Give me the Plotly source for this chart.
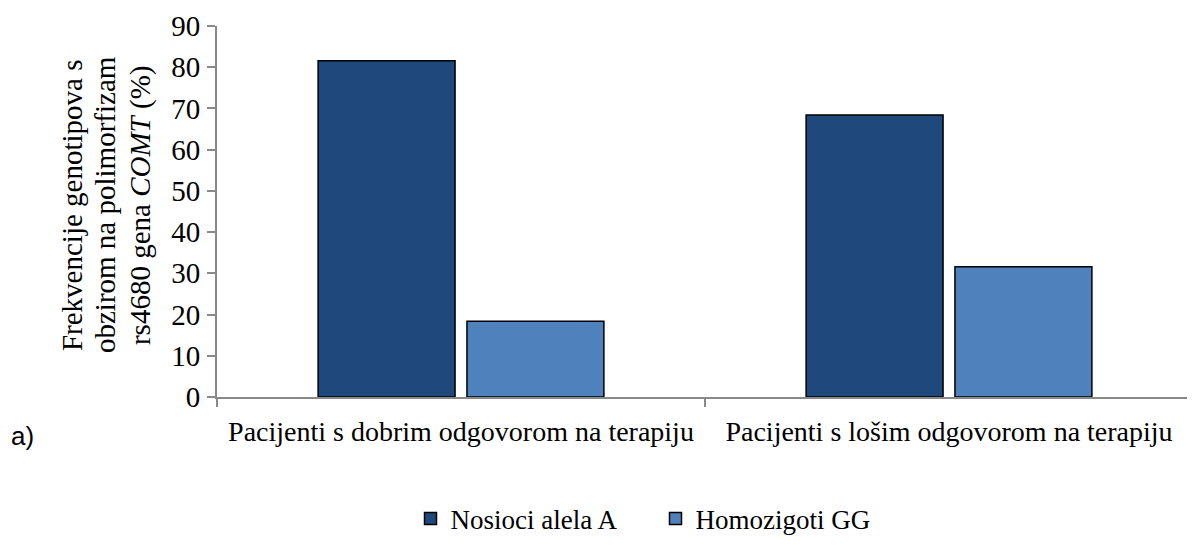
import plotly.graph_objects as go

categories = ["Pacijenti s dobrim odgovorom na terapiju", "Pacijenti s lošim odgovorom na terapiju"]
series_names = ["Nosioci alela A", "Homozigoti GG"]
nosioci = [81.6, 68.4]
homozigoti = [18.4, 31.6]
colors = ["#1F497D", "#4F81BD"]
y_title_lines = ["Frekvencije genotipova s", "obzirom na polimorfizam", "rs4680 gena <i>COMT</i> (%)"]

OFF = 8  # page body margin
W, H = 1187, 548
L, R, T, B = 209, 2, 16, 159
pw, ph = W - L - R, H - T - B
PX0, PY0 = OFF + L, OFF + T + ph  # page coords of plot left / bottom

fig = go.Figure()
for name, vals, c in zip(series_names, [nosioci, homozigoti], colors):
    fig.add_trace(go.Bar(x=categories, y=vals, name=name, marker=dict(color=c, line=dict(color="#000000", width=1.5))))

serif = "Liberation Serif, Times New Roman, serif"
fig.update_layout(
    width=W, height=H,
    margin=dict(l=L, r=R, t=T, b=B),
    plot_bgcolor="white", paper_bgcolor="white",
    barmode="group", bargap=0.39, bargroupgap=0.08,
    font=dict(family=serif, size=28, color="black"),
    showlegend=True,
    legend=dict(orientation="h", xref="container", yref="container", x=0.5 + 54 / W, xanchor="center",
                y=1 - (519 - OFF) / H, yanchor="middle", font=dict(family=serif, size=27, color="black"),
                itemwidth=30, traceorder="normal", entrywidth=200, entrywidthmode="pixels"),
    xaxis=dict(showline=True, linecolor="#898989", linewidth=2, ticks="outside", ticklen=8,
               tickcolor="#898989", tickwidth=2, tickson="boundaries", showgrid=False,
               tickfont=dict(family=serif, size=28), ticklabelstandoff=8),
    yaxis=dict(range=[0, 90], dtick=10, showline=True, linecolor="#898989", linewidth=2,
               ticks="outside", ticklen=8, tickcolor="#898989", tickwidth=2, showgrid=False,
               zeroline=False, tickfont=dict(family=serif, size=29), ticklabelstandoff=1),
)

xs = [72, 105, 140]
for px, line in zip(xs, y_title_lines):
    fig.add_annotation(text=line, xref="paper", yref="paper", x=(px - PX0) / pw, y=(PY0 - 204) / ph,
                       textangle=-90, showarrow=False, font=dict(family=serif, size=29, color="black"),
                       xanchor="center", yanchor="middle")

fig.add_annotation(text="a)", xref="paper", yref="paper", x=(OFF + 1 - PX0) / pw, y=(PY0 - 436) / ph,
                   showarrow=False, xanchor="left", yanchor="middle",
                   font=dict(family="Liberation Sans, Arial, sans-serif", size=26, color="black"))

fig.write_html("out.html")
